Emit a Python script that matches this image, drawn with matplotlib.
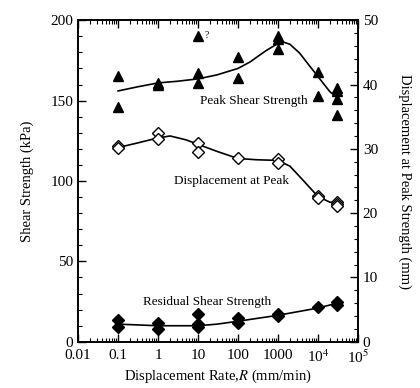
import numpy as np
import matplotlib
matplotlib.use('Agg')
import matplotlib.pyplot as plt
from matplotlib.ticker import MultipleLocator, LogLocator, FixedLocator, FixedFormatter, NullFormatter

plt.rcParams['font.family'] = ['Liberation Serif', 'DejaVu Serif']
plt.rcParams['mathtext.fontset'] = 'stix'

# peak shear strength (kPa), filled triangles
peak_x = [0.1, 0.1, 1, 1, 10, 10, 10, 100, 100, 1000, 1000, 1000, 1e4, 1e4, 3e4, 3e4, 3e4, 3e4]
peak_y = [165, 146, 161, 160, 190, 167, 161, 177, 164, 190, 188, 182, 168, 153, 158, 156, 151, 141]
peak_cx = [0.1, 0.3, 1, 3, 10, 30, 100, 200, 500, 1000, 1330, 2000, 3500, 6000, 1e4, 2e4, 3e4]
peak_cy = [156, 158.5, 161, 162, 163.5, 166, 170, 174, 181, 185.5, 186.5, 185, 179.5, 172, 165, 155.5, 152]

# displacement at peak (mm), open diamonds, right axis
disp_x = [0.1, 0.1, 1, 1, 10, 10, 100, 1000, 1000, 1e4, 1e4, 3e4, 3e4, 3e4]
disp_y = [30.5, 30.2, 32.4, 31.5, 30.9, 29.5, 28.5, 28.4, 27.8, 22.6, 22.3, 21.7, 21.4, 21.1]
disp_cx = [0.1, 0.3, 1, 2, 5, 10, 30, 100, 300, 1000, 2000, 4000, 1e4, 2e4, 3e4]
disp_cy = [30.2, 30.9, 31.7, 32.0, 31.4, 30.7, 29.6, 28.5, 28.3, 28.2, 27.3, 25.3, 22.6, 21.7, 21.6]

# residual shear strength (kPa), filled diamonds
res_x = [0.1, 0.1, 1, 1, 10, 10, 10, 100, 100, 1000, 1000, 1e4, 3e4, 3e4]
res_y = [13.5, 9, 12, 8, 17, 11, 9, 15, 12, 17, 16, 21.5, 25, 23]
res_cx = [0.1, 1, 10, 30, 100, 1000, 1e4, 3e4]
res_cy = [11, 10, 10, 11, 12.8, 16.5, 21, 24]

xticks = [0.01, 0.1, 1, 10, 100, 1000, 1e4, 1e5]
xticklabels = ['0.01', '0.1', '1', '10', '100', '1000', '10$^4$', '10$^5$']

fig = plt.figure(figsize=(4.2, 3.88), dpi=100)
ax = fig.add_axes([0.186, 0.119, 0.666, 0.829])
ax2 = ax.twinx()

ax.plot(peak_cx, peak_cy, color='black', lw=1.2)
ax.plot(peak_x, peak_y, '^', color='black', ms=7, ls='none')
ax.plot(res_cx, res_cy, color='black', lw=1.2)
ax.plot(res_x, res_y, 'D', color='black', ms=6, ls='none')
ax2.plot(disp_cx, disp_cy, color='black', lw=1.2)
ax2.plot(disp_x, disp_y, 'D', mfc='white', mec='black', mew=1, ms=6, ls='none')

ax.set_xscale('log')
ax.set_xlim(0.01, 1e5)
ax.set_ylim(0, 200)
ax2.set_ylim(0, 50)

ax.xaxis.set_major_locator(FixedLocator(xticks))
ax.xaxis.set_major_formatter(FixedFormatter(xticklabels))
ax.xaxis.set_minor_locator(LogLocator(base=10, subs=np.arange(2, 10), numticks=20))
ax.xaxis.set_minor_formatter(NullFormatter())
ax.yaxis.set_major_locator(MultipleLocator(50))
ax.yaxis.set_minor_locator(MultipleLocator(10))
ax2.yaxis.set_major_locator(MultipleLocator(10))
ax2.yaxis.set_minor_locator(MultipleLocator(2))

ax.tick_params(axis='x', which='both', direction='in', top=True, labelsize=11, pad=5)
ax.tick_params(axis='y', which='both', direction='in', labelsize=11)
ax.tick_params(which='major', length=6, width=1)
ax.tick_params(which='minor', length=3, width=0.8)
ax2.tick_params(which='both', direction='in', labelsize=11)
ax2.tick_params(which='major', length=6, width=1)
ax2.tick_params(which='minor', length=3, width=0.8)
for a in (ax, ax2):
    for s in a.spines.values():
        s.set_linewidth(1.2)

ax.set_xlabel('Displacement Rate,$R$ (mm/min)', fontsize=10.5, labelpad=1)
ax.set_ylabel('Shear Strength (kPa)', fontsize=10.5, labelpad=12)
ax2.set_ylabel('Displacement at Peak Strength (mm)', fontsize=10.5, rotation=-90, labelpad=24)

ax.text(250, 150, 'Peak Shear Strength', fontsize=9.5, ha='center', va='center')
ax.text(67, 100, 'Displacement at Peak', fontsize=9.5, ha='center', va='center')
ax.text(17, 25, 'Residual Shear Strength', fontsize=9.5, ha='center', va='center')
ax.text(15, 190.5, '?', fontsize=7, ha='left', va='center')

plt.savefig('out.png', dpi=100)
